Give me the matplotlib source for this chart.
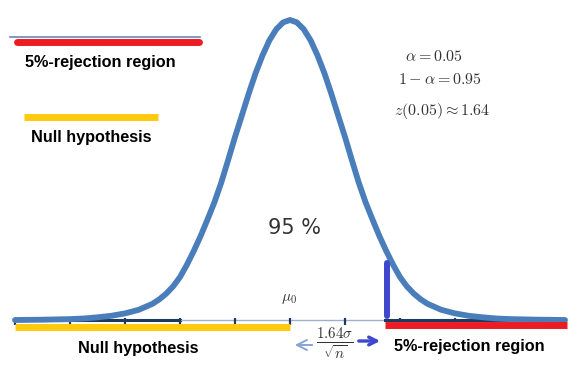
import matplotlib
matplotlib.use("Agg")
import matplotlib.pyplot as plt
from matplotlib.lines import Line2D

# ---------- DATA ----------
# z positions along the axis (in sigma units) and curve height relative to the peak
half_z = [0.0, 0.125, 0.25, 0.375, 0.5, 0.625, 0.75, 0.875, 1.0, 1.125, 1.25, 1.375,
          1.5, 1.625, 1.75, 1.875, 2.0, 2.125, 2.25, 2.375, 2.5, 2.75, 3.0, 3.25,
          3.5, 3.75, 4.0, 4.5, 5.0]
half_h = [1.0, 0.992, 0.969, 0.932, 0.882, 0.823, 0.755, 0.682, 0.610, 0.533, 0.458, 0.392,
          0.335, 0.280, 0.230, 0.184, 0.143, 0.112, 0.088, 0.069, 0.054, 0.034, 0.022, 0.014,
          0.009, 0.005, 0.003, 0.001, 0.0]
tick_z = [-5, -4, -3, -2, -1, 0, 1, 2, 3, 4, 5]
null_region = (-5.0, 0.0)
reject_region = (1.73, 5.03)
crit_z = 1.76
crit_h = 0.19

alpha_text = r"$\alpha = 0.05$"
conf_text = r"$1 - \alpha = 0.95$"
z_text = r"$z(0.05) \approx 1.64$"
center_label = "95 %"
mu_label = r"$\mu_0$"
margin_label = r"$\frac{1.64\sigma}{\sqrt{n}}$"
reject_label = "5%-rejection region"
null_label = "Null hypothesis"

# symmetric curve
curve_z = [-z for z in half_z[::-1]] + half_z[1:]
curve_h = half_h[::-1] + half_h[1:]

# ---------- STYLE ----------
W, H = 580, 391
X0, SIG = 290, 55      # pixel of mu0, pixels per sigma
Y0, PEAK = 320, 300    # baseline pixel, pixels of peak height

CURVE = "#4a7ebb"
AXIS = "#1f3a5f"
YELLOW = "#ffc90e"
RED = "#ed1c24"
BLUE = "#3f48cc"
label_font = dict(family=["Liberation Sans", "DejaVu Sans"], fontweight="bold",
                  fontsize=11.7, color="black")
plt.rcParams["mathtext.fontset"] = "cm"


def px(x, y):
    """pixel position -> data coordinates"""
    return (x - X0) / SIG, (Y0 - y) / PEAK


fig = plt.figure(figsize=(W / 100, H / 100), dpi=100)
ax = fig.add_axes([0, 0, 1, 1])
ax.set_xlim(-X0 / SIG, (W - X0) / SIG)
ax.set_ylim(-(H - Y0) / PEAK, Y0 / PEAK)
ax.axis("off")

# axis line and ticks
ax.plot([tick_z[0], -2], [0, 0], color=AXIS, lw=2.2, zorder=2)
ax.plot([-2, reject_region[0]], [0, 0], color="#9fb0c8", lw=1.0, zorder=2)
ax.plot([reject_region[0], tick_z[-1]], [0, 0], color=AXIS, lw=2.2, zorder=2)
ax.vlines(tick_z, -0.018, 0.006, color=AXIS, lw=1.6, zorder=2)

# normal curve
ax.plot(curve_z, curve_h, color=CURVE, lw=4.2, solid_joinstyle="round",
        solid_capstyle="round", zorder=3)

# regions along the axis
ax.plot(null_region, [-0.024, -0.024], color=YELLOW, lw=5, solid_capstyle="butt", zorder=4)
ax.plot(reject_region, [-0.018, -0.018], color=RED, lw=5, solid_capstyle="butt", zorder=4)

# critical value bar
ax.plot([crit_z, crit_z], [0.013, crit_h], color=BLUE, lw=4.3, solid_capstyle="round", zorder=5)

# legend-like keys top left
fig.add_artist(Line2D([10 / W, 200 / W], [1 - 37 / H, 1 - 37 / H], color="#6d87b0", lw=1.2))
fig.add_artist(Line2D([17 / W, 199 / W], [1 - 42 / H, 1 - 42 / H], color=RED, lw=5,
                      solid_capstyle="round"))
fig.add_artist(Line2D([24 / W, 158 / W], [1 - 117 / H, 1 - 117 / H], color=YELLOW, lw=5,
                      solid_capstyle="butt"))
ax.text(*px(25, 63), reject_label, ha="left", va="center", **label_font)
ax.text(*px(31, 138), null_label, ha="left", va="center", **label_font)

# bottom labels
ax.text(*px(78, 349), null_label, ha="left", va="center", **label_font)
ax.text(*px(394, 347), reject_label, ha="left", va="center", **label_font)

# formulas on the right
ax.text(*px(434, 57), alpha_text, ha="center", va="center", fontsize=11.5, color="#333333")
ax.text(*px(440, 80), conf_text, ha="center", va="center", fontsize=11.5, color="#333333")
ax.text(*px(442, 111), z_text, ha="center", va="center", fontsize=11.5, color="#333333")

ax.text(*px(295, 228), center_label, ha="center", va="center", fontsize=15, color="#333333")
ax.text(*px(289, 299), mu_label, ha="center", va="center", fontsize=11, color="#333333")
ax.text(*px(335, 344), margin_label, ha="center", va="center", fontsize=15.5, color="#333333")

# arrows around the margin
ax.annotate("", xy=px(292, 345), xytext=px(315, 345),
            arrowprops=dict(arrowstyle="->", color="#8aa3cf", lw=1.4, mutation_scale=18))
ax.annotate("", xy=px(383, 341), xytext=px(356, 341),
            arrowprops=dict(arrowstyle="->", color=BLUE, lw=2.4, mutation_scale=14))

fig.savefig("out.png", dpi=100)
